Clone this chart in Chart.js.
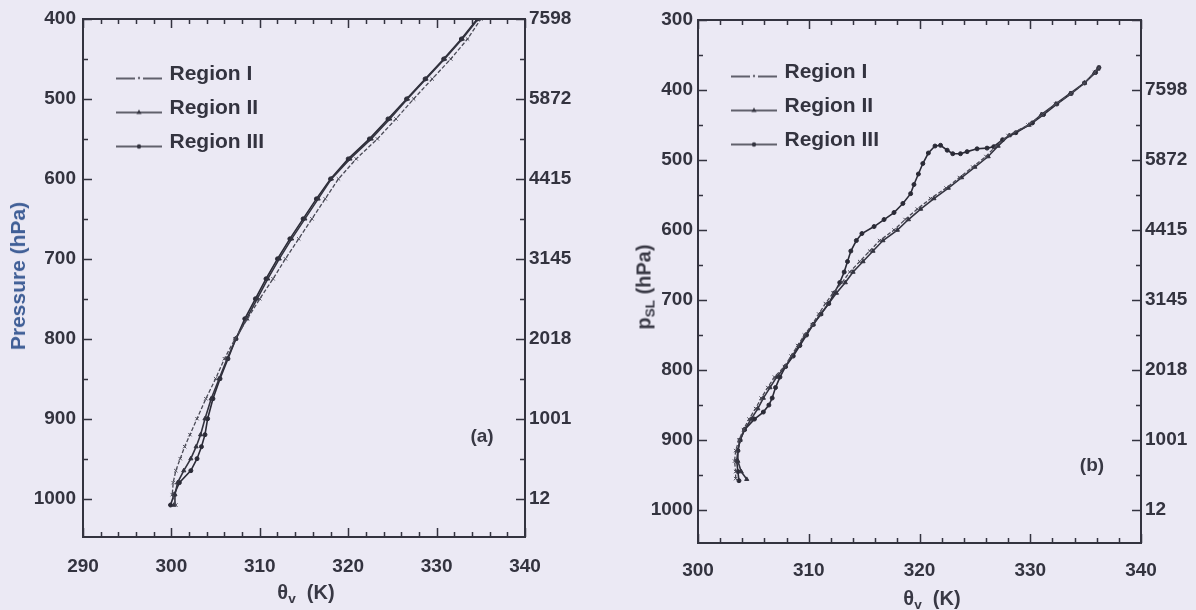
<!DOCTYPE html>
<html lang="en">
<head>
<meta charset="utf-8">
<title>Virtual potential temperature profiles</title>
<script src="https://cdn.jsdelivr.net/npm/chart.js@4.4.1/dist/chart.umd.min.js"></script>
<style>
  html, body { margin: 0; background: #ebe9f4; }
  #fig { position: relative; width: 1196px; height: 610px; overflow: hidden;
         font-family: 'Liberation Sans', Arial, sans-serif; color: #383844; }
  .panel { position: absolute; top: 0; height: 610px; }
  .txt { position: absolute; transform: translate(-50%, -50%); white-space: nowrap;
         font-size: 20px; font-weight: bold; }
  .txt.up { transform: translate(-50%, -50%) rotate(-90deg); }
  .txt sub { font-size: 0.68em; vertical-align: -0.3em; line-height: 0; }
</style>
</head>
<body>
<div id="fig">
  <div class="panel" style="left:0;width:600px"><canvas id="thetaA"></canvas></div>
  <div class="panel" style="left:600px;width:596px"><canvas id="thetaB"></canvas></div>
  <div class="txt up" style="left:18px;top:276px;color:#3f5e96;font-size:21px">Pressure (hPa)</div>
  <div class="txt" style="left:306px;top:592px">&theta;<sub>v</sub>&nbsp; (K)</div>
  <div class="txt" style="left:482px;top:436px;font-size:19px">(a)</div>
  <div class="txt up" style="left:644px;top:287px">p<sub>SL</sub> (hPa)</div>
  <div class="txt" style="left:932px;top:598px">&theta;<sub>v</sub>&nbsp; (K)</div>
  <div class="txt" style="left:1092px;top:465px;font-size:19px">(b)</div>
</div>
<script>
Chart.defaults.font.family = "'Liberation Sans', Arial, sans-serif";
const INK = '#33333f';

const REGIONS = ['Region I', 'Region II', 'Region III'];

// (a) theta_v (K) against pressure (hPa)
const presA = [1008, 995, 980, 965, 950, 935, 920, 900, 875, 850, 825, 800, 775, 750,
               725, 700, 675, 650, 625, 600, 575, 550, 525, 500, 475, 450, 425, 400];
const thetaA1 = [300.5, 300.1, 300.2, 300.5, 301.0, 301.5, 302.1, 302.9, 303.9, 305.0, 306.0, 307.2, 308.6, 310.0,
                 311.5, 312.9, 314.4, 315.9, 317.4, 318.9, 320.9, 323.3, 325.4, 327.4, 329.5, 331.6, 333.5, 335.0];
const thetaA2 = [300.3, 300.4, 300.7, 301.4, 302.2, 302.8, 303.3, 303.8, 304.5, 305.4, 306.3, 307.3, 308.5, 309.7,
                 310.9, 312.2, 313.6, 315.1, 316.6, 318.1, 320.2, 322.6, 324.7, 326.7, 328.8, 330.9, 332.9, 334.7];
const thetaA3 = [299.9, 300.3, 300.9, 302.2, 302.9, 303.4, 303.8, 304.1, 304.7, 305.5, 306.4, 307.3, 308.3, 309.5,
                 310.7, 312.0, 313.4, 314.9, 316.4, 318.0, 320.0, 322.4, 324.5, 326.6, 328.7, 330.8, 332.8, 334.6];

// (b) theta_v (K) against p_SL (hPa), one pressure list per region
const presB1 = [955, 945, 930, 915, 900, 885, 870, 855, 840, 825, 810, 795, 780, 765, 750, 735, 720, 705, 690, 675, 660,
                645, 630, 615, 600, 585, 570, 555, 540, 525, 510, 495, 480, 465, 450, 435, 420, 405, 390, 375, 368];
const thetaB1 = [303.4, 303.4, 303.3, 303.4, 303.7, 304.1, 304.6, 305.2, 305.7, 306.3, 306.9, 307.8, 308.4, 309.0,
                 309.6, 310.3, 310.9, 311.5, 312.2, 313.0, 313.7, 314.6, 315.5, 316.4, 317.7, 318.7, 319.8, 321.0,
                 322.4, 323.6, 324.8, 326.0, 326.9, 328.0, 329.8, 331.1, 332.3, 333.7, 334.9, 335.8, 336.2];
const presB2 = [956, 945, 930, 915, 900, 885, 870, 855, 840, 825, 810, 795, 780, 765, 750, 735, 720, 705, 690, 675, 660,
                645, 630, 615, 600, 585, 570, 555, 540, 525, 510, 495, 480, 465, 450, 435, 420, 405, 390, 375, 370];
const thetaB2 = [304.4, 303.9, 303.6, 303.6, 303.8, 304.2, 304.8, 305.4, 305.9, 306.5, 307.1, 307.9, 308.5, 309.1,
                 309.7, 310.4, 311.1, 311.8, 312.5, 313.3, 314.0, 314.9, 315.8, 316.7, 318.0, 319.0, 320.1, 321.3,
                 322.6, 323.8, 325.0, 326.2, 327.1, 328.1, 329.9, 331.0, 332.3, 333.6, 334.9, 335.8, 336.1];
const presB3 = [958, 945, 930, 915, 900, 885, 870, 860, 850, 840, 825, 810, 795, 780, 765, 750, 735, 720, 705, 690,
                675, 660, 645, 630, 615, 605, 595, 585, 575, 562, 548, 535, 520, 505, 490, 480, 479, 486, 491, 491,
                488, 484, 483, 481, 471, 461, 447, 435, 420, 405, 390, 375, 368];
const thetaB3 = [303.7, 303.6, 303.5, 303.6, 303.8, 304.2, 305.1, 305.9, 306.4, 306.7, 307.0, 307.4, 307.9, 308.6,
                 309.2, 309.8, 310.4, 311.1, 311.8, 312.3, 312.8, 313.2, 313.5, 313.8, 314.3, 314.8, 315.9, 316.8,
                 317.7, 318.5, 319.2, 319.5, 319.9, 320.3, 320.8, 321.4, 321.9, 322.5, 323.0, 323.7, 324.3, 325.2,
                 326.1, 326.7, 327.5, 328.7, 330.2, 331.2, 332.4, 333.7, 334.9, 335.9, 336.2];

// right-hand axis: height (m) at the 100 hPa levels
const heightLevels = [400, 500, 600, 700, 800, 900, 1000];
const heightLabels = ['7598', '5872', '4415', '3145', '2018', '1001', '12'];

const seriesStyles = [
  { borderColor: '#4a4a56', borderWidth: 1.3, borderDash: [4, 2], pointStyle: 'crossRot', pointRadius: 2.4 },
  { borderColor: INK, borderWidth: 1.6, pointStyle: 'triangle', pointRadius: 2.4 },
  { borderColor: '#2a2a36', borderWidth: 1.6, pointStyle: 'circle', pointRadius: 2 }
];

function regionSets(thetas, pres) {
  return REGIONS.map((name, i) => Object.assign({
    label: name,
    data: thetas[i].map((t, k) => ({ x: t, y: pres[i][k] })),
    pointBorderColor: seriesStyles[i].borderColor,
    pointBackgroundColor: seriesStyles[i].borderColor,
    pointBorderWidth: 1,
    tension: 0,
    fill: false
  }, seriesStyles[i]));
}

// little line + marker pictures for the legend
function legendSwatch(i) {
  const c = document.createElement('canvas');
  c.width = 71; c.height = 20;
  const g = c.getContext('2d');
  const y = 14, x0 = 24, x1 = 70, xm = 47;
  g.strokeStyle = INK; g.fillStyle = INK; g.lineWidth = 1.4;
  g.beginPath();
  if (i === 0) {
    g.moveTo(x0, y); g.lineTo(xm - 4, y);
    g.moveTo(xm + 4, y); g.lineTo(x1, y);
  } else {
    g.moveTo(x0, y); g.lineTo(x1, y);
  }
  g.stroke();
  g.beginPath();
  if (i === 0) {
    g.arc(xm, y - 0.5, 1.1, 0, Math.PI * 2); g.fill();
  } else if (i === 1) {
    g.moveTo(xm, y - 3); g.lineTo(xm + 2.6, y + 1.5); g.lineTo(xm - 2.6, y + 1.5); g.closePath(); g.fill();
  } else {
    g.arc(xm, y, 2.2, 0, Math.PI * 2); g.fill();
  }
  return c;
}
const swatches = REGIONS.map((r, i) => legendSwatch(i));

// box round the plot with inward major / minor ticks on all four sides
const frameTicks = {
  id: 'frameTicks',
  afterDraw(chart, args, opts) {
    const { ctx, chartArea: a } = chart;
    const x = chart.scales.x, y = chart.scales.y;
    ctx.save();
    ctx.strokeStyle = INK;
    ctx.lineWidth = 1.5;
    ctx.beginPath();
    for (let v = Math.ceil(x.min / opts.xMinor) * opts.xMinor; v <= x.max; v += opts.xMinor) {
      const px = Math.round(x.getPixelForValue(v)) + 0.5;
      const len = v % opts.xMajor === 0 ? 9 : 5;
      ctx.moveTo(px, a.bottom); ctx.lineTo(px, a.bottom - len);
      ctx.moveTo(px, a.top); ctx.lineTo(px, a.top + len);
    }
    for (let v = Math.ceil(y.min / opts.yMinor) * opts.yMinor; v <= y.max; v += opts.yMinor) {
      const py = Math.round(y.getPixelForValue(v)) + 0.5;
      const len = v % opts.yMajor === 0 ? 9 : 5;
      ctx.moveTo(a.left, py); ctx.lineTo(a.left + len, py);
      ctx.moveTo(a.right, py); ctx.lineTo(a.right - len, py);
    }
    ctx.stroke();
    ctx.lineWidth = 2;
    ctx.strokeRect(a.left, a.top, a.right - a.left, a.bottom - a.top);
    ctx.restore();
  }
};

const tickFont = { size: 19, weight: 'bold' };
const noGrid = { display: false, drawTicks: false };

function thetaChart(id, sets, o) {
  return new Chart(document.getElementById(id), {
    type: 'line',
    data: { datasets: sets },
    plugins: [frameTicks],
    options: {
      responsive: true,
      maintainAspectRatio: false,
      animation: false,
      events: [],
      layout: { padding: { top: o.top, left: 0, right: 0, bottom: 0 } },
      scales: {
        x: {
          type: 'linear', min: o.xMin, max: 340,
          grid: noGrid, border: { display: false },
          ticks: { stepSize: 10, padding: o.xPad, font: tickFont, color: INK, maxRotation: 0, includeBounds: false },
          afterFit: (s) => { s.height = o.xHeight; }
        },
        y: {
          type: 'linear', reverse: true, min: o.yMin, max: o.yMax, position: 'left',
          grid: noGrid, border: { display: false },
          ticks: { stepSize: 100, padding: o.yPad, font: tickFont, color: INK, includeBounds: false,
                   callback: (v) => String(v) },
          afterFit: (s) => { s.width = o.yWidth; }
        },
        y2: {
          type: 'linear', reverse: true, min: o.yMin, max: o.yMax, position: 'right',
          grid: noGrid, border: { display: false },
          ticks: {
            stepSize: 100, padding: 4, font: tickFont, color: INK, includeBounds: false,
            callback: (v) => {
              const i = heightLevels.indexOf(v);
              return i < 0 ? '' : heightLabels[i];
            }
          },
          afterFit: (s) => { s.width = o.y2Width; }
        }
      },
      plugins: {
        frameTicks: { xMinor: 2, xMajor: 10, yMinor: 50, yMajor: 100 },
        tooltip: { enabled: false },
        legend: {
          position: 'chartArea',
          align: 'start',
          title: { display: true, text: '', font: { size: 10 }, padding: { top: o.legendTop, bottom: 0 } },
          labels: {
            usePointStyle: true,
            pointStyleWidth: 63,
            padding: 13,
            color: INK,
            font: { size: 21, weight: 'bold' },
            generateLabels: (chart) => {
              const items = Chart.defaults.plugins.legend.labels.generateLabels(chart);
              items.forEach((it, i) => { it.pointStyle = swatches[i]; });
              return items;
            }
          }
        }
      }
    }
  });
}

(function(){
  const sets = regionSets([thetaA1, thetaA2, thetaA3], [presA, presA, presA]);
  thetaChart('thetaA', sets, {
    top: 19, xMin: 290, xHeight: 73, xPad: 18,
    yMin: 400, yMax: 1048, yWidth: 83, yPad: 7, y2Width: 75, legendTop: 39
  });
})();

(function(){
  const sets = regionSets([thetaB1, thetaB2, thetaB3], [presB1, presB2, presB3]);
  thetaChart('thetaB', sets, {
    top: 20, xMin: 300, xHeight: 67, xPad: 16,
    yMin: 300, yMax: 1047, yWidth: 98, yPad: 5, y2Width: 55, legendTop: 37
  });
})();
</script>
</body>
</html>
